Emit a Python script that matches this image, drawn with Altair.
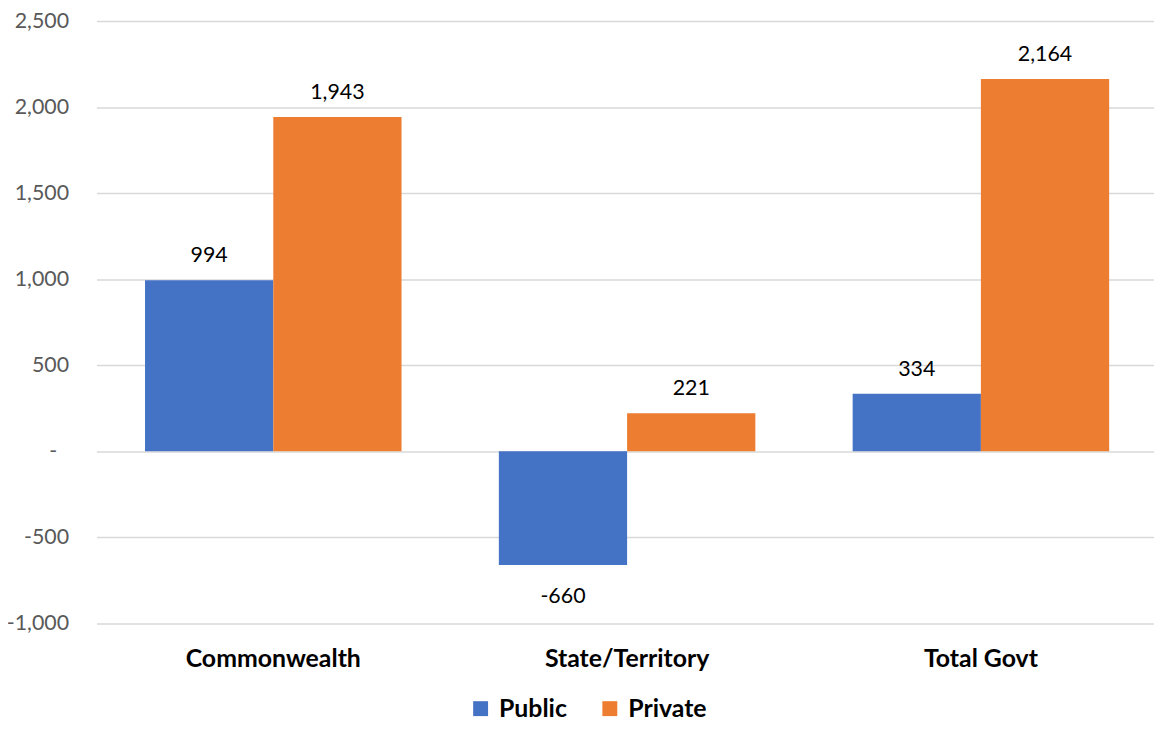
import altair as alt
import pandas as pd

categories = ["Commonwealth", "State/Territory", "Total Govt"]
series = ["Public", "Private"]
public_values = [994, -660, 334]
private_values = [1943, 221, 2164]
y_ticks = [-1000, -500, 0, 500, 1000, 1500, 2000, 2500]
colors = ["#4472C4", "#ED7D31"]

rows = []
for c, pu, pr in zip(categories, public_values, private_values):
    rows.append({"category": c, "series": "Public", "value": pu})
    rows.append({"category": c, "series": "Private", "value": pr})
df = pd.DataFrame(rows)
df["label"] = df["value"].map(lambda v: f"{v:,}")

FONT = "Lato"

x = alt.X(
    "category:N", sort=categories, title=None,
    scale=alt.Scale(paddingInner=0.275, paddingOuter=0.132, align=0.52),
    axis=alt.Axis(labelAngle=0, labelFont=FONT, labelFontSize=25, labelFontWeight="bold",
                  labelColor="#000000", ticks=False, tickSize=0, domain=False,
                  labelPadding=23, grid=False),
)
xoff = alt.XOffset("series:N", sort=series, scale=alt.Scale(paddingInner=0, paddingOuter=0))
y = alt.Y(
    "value:Q", title=None,
    scale=alt.Scale(domain=[-1000, 2500], nice=False, zero=False),
    axis=alt.Axis(values=y_ticks,
                  labelExpr="datum.value == 0 ? '-' : replace(format(datum.value, ','), '\u2212', '-')",
                  labelFont=FONT, labelFontSize=21.5, labelColor="#595959",
                  ticks=False, tickSize=0, domain=False,
                  labelPadding={"condition": {"test": "datum.value == 0", "value": 40}, "value": 28},
                  grid=True, gridColor="#D9D9D9", gridWidth=1.5),
)
color = alt.Color(
    "series:N", sort=series,
    scale=alt.Scale(domain=series, range=colors),
    legend=alt.Legend(title=None, orient="none", legendX=374, legendY=679,
                      direction="horizontal", symbolType="square", symbolSize=225,
                      symbolStrokeWidth=0, labelFont=FONT, labelFontSize=25,
                      labelFontWeight="bold", labelColor="#000000",
                      columnPadding=30, labelOffset=6, padding=0),
)

base = alt.Chart(df)
bars = base.mark_bar().encode(x=x, xOffset=xoff, y=y, color=color)
pos_text = base.transform_filter("datum.value >= 0").mark_text(
    font=FONT, fontSize=21.5, color="#000000", baseline="alphabetic", dy=-18
).encode(x=x, xOffset=xoff, y=y, text="label:N")
neg_text = base.transform_filter("datum.value < 0").mark_text(
    font=FONT, fontSize=21.5, color="#000000", baseline="alphabetic", dy=38
).encode(x=x, xOffset=xoff, y=y, text="label:N")

chart = alt.layer(bars, pos_text, neg_text).properties(
    width=1064, height=606,
    padding={"left": 89, "top": 11, "right": 0, "bottom": 96},
    autosize="none",
).configure_view(stroke=None)

chart.save("out.html", embed_options={"renderer": "svg", "actions": False})
